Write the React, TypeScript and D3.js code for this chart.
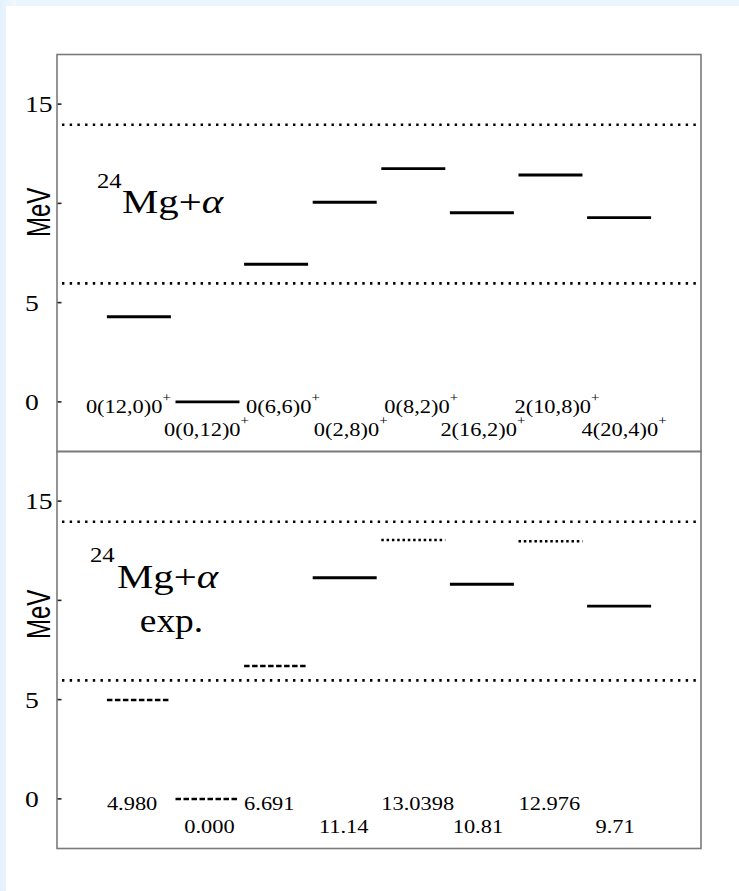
import React from "react";
import * as d3 from "d3";

// ---------- data ----------
const levelIndex = [0, 1, 2, 3, 4, 5, 6, 7];
const theoryLabels = ["0(12,0)0", "0(0,12)0", "0(6,6)0", "0(2,8)0", "0(8,2)0", "2(16,2)0", "2(10,8)0", "4(20,4)0"];
const theoryEnergies = [4.29, 0, 6.93, 10.06, 11.75, 9.53, 11.43, 9.28];
const expLabels = ["4.980", "0.000", "6.691", "11.14", "13.0398", "10.81", "12.976", "9.71"];
const expEnergies = [4.98, 0, 6.691, 11.14, 13.0398, 10.81, 12.976, 9.71];
const expStyles = ["dashed", "dashed", "dashed", "solid", "dotted", "solid", "dotted", "solid"];
const thresholds = [5.97, 13.96];
const tickValues = [0, 5, 10, 15];
const tickLabels = ["0", "5", "", "15"];
const yDomain = [-2.5, 17.5];

// ---------- layout ----------
const W = 739, H = 891;
const PX0 = 57, PX1 = 701;
const PANEL_H = 397;
const TOP0 = 54.5;
const BOT0 = TOP0 + PANEL_H;
const HALF = 32;
const SERIF = "'Liberation Serif', 'Times New Roman', serif";
const SANS = "'Liberation Sans', Arial, sans-serif";
const SX = 1.15;

const topAnchors = ["end", "middle", "start", "middle", "start", "middle", "start", "middle"];
const topDx = [HALF, -1, -HALF + 2, 6, -HALF + 3, 1, -HALF - 4, 5];
const botAnchors = ["start", "middle", "start", "middle", "start", "middle", "start", "middle"];
const botDx = [-HALF, 2, -HALF, -1, -HALF, -4, -HALF, -4];

const x = d3.scalePoint<number>().domain(levelIndex).range([PX0, PX1]).padding(1.194);

function T(props: any) {
  const { x, y, sx = SX, anchor = "start", size = 19, family = SERIF, children } = props;
  return (
    <text transform={`translate(${x},${y}) scale(${sx},1)`} textAnchor={anchor} fontSize={size} fontFamily={family} fill="#000">
      {children}
    </text>
  );
}

function Panel({ top, energies, styles, labels, anchors, dxs, sup, big, mevDy }: any) {
  const y = d3.scaleLinear().domain(yDomain).range([top + PANEL_H, top]);
  const y0 = y(0);
  const dashFor = (s: string) => (s === "dashed" ? "5.5,2.5" : s === "dotted" ? "2.5,2.8" : undefined);
  return (
    <g>
      {thresholds.map((t, i) => (
        <line key={"t" + i} x1={62} x2={698} y1={y(t)} y2={y(t)} stroke="#000" strokeWidth={2.6} strokeDasharray="2.4,5.3" />
      ))}
      {tickValues.map((v, i) => (
        <g key={"k" + i}>
          <line x1={PX0} x2={PX0 + 4.5} y1={y(v)} y2={y(v)} stroke="#222" strokeWidth={1.6} />
          {tickLabels[i] && (
            <T x={25} y={y(v) + 8} size={23} sx={1.2}>{tickLabels[i]}</T>
          )}
        </g>
      ))}
      <text
        transform={`translate(50,${y(10) + mevDy}) rotate(-90) scale(1,1.35)`}
        textAnchor="middle"
        fontSize={24}
        fontFamily={SANS}
        fill="#000"
      >
        MeV
      </text>
      {levelIndex.map((i) => {
        const cx = x(i) as number;
        const s = styles[i];
        return (
          <line
            key={"l" + i}
            x1={cx - HALF}
            x2={cx + HALF}
            y1={y(energies[i])}
            y2={y(energies[i])}
            stroke="#000"
            strokeWidth={s === "solid" ? 2.9 : 2.5}
            strokeDasharray={dashFor(s)}
          />
        );
      })}
      {levelIndex.map((i) => {
        const cx = x(i) as number;
        const row = i % 2 === 0 ? 0 : 1;
        return (
          <T key={"lb" + i} x={cx + dxs[i]} y={y0 + (row === 0 ? 11.5 : 34)} anchor={anchors[i]} size={19.5}>
            {labels[i]}
            {sup && (
              <tspan fontSize={13} dy={-11}>
                +
              </tspan>
            )}
          </T>
        );
      })}
      {big}
    </g>
  );
}

export default function App() {
  return (
    <svg width={W} height={H} style={{ position: "absolute", left: 0, top: 0, display: "block" }}>
      <defs>
        <linearGradient id="lb" x1="0" x2="1" y1="0" y2="0">
          <stop offset="0" stopColor="#e3f0fc" />
          <stop offset="1" stopColor="#f3f9fe" />
        </linearGradient>
      </defs>
      <rect x={0} y={0} width={W} height={H} fill="#e9f4fd" />
      <rect x={0} y={0} width={16} height={H} fill="url(#lb)" />
      <rect x={6} y={6} width={W - 6} height={H - 6} fill="#ffffff" />
      <Panel
        top={TOP0}
        energies={theoryEnergies}
        styles={theoryEnergies.map(() => "solid")}
        labels={theoryLabels}
        anchors={topAnchors}
        dxs={topDx}
        sup={true}
        mevDy={9}
        big={
          <g>
            <T x={97} y={188} size={21.5}>24</T>
            <T x={122} y={213} size={34} sx={1.2}>
              Mg+<tspan fontStyle="italic">α</tspan>
            </T>
          </g>
        }
      />
      <Panel
        top={BOT0}
        energies={expEnergies}
        styles={expStyles}
        labels={expLabels}
        anchors={botAnchors}
        dxs={botDx}
        sup={false}
        mevDy={14}
        big={
          <g>
            <T x={90} y={562} size={21.5}>24</T>
            <T x={117} y={588} size={34} sx={1.2}>
              Mg+<tspan fontStyle="italic">α</tspan>
            </T>
            <T x={171.5} y={632} size={34} anchor="middle" sx={1.1}>
              exp.
            </T>
          </g>
        }
      />
      <rect x={PX0} y={TOP0} width={PX1 - PX0} height={PANEL_H} fill="none" stroke="#7a7a7a" strokeWidth={1.6} />
      <rect x={PX0} y={BOT0} width={PX1 - PX0} height={PANEL_H} fill="none" stroke="#7a7a7a" strokeWidth={1.6} />
    </svg>
  );
}
